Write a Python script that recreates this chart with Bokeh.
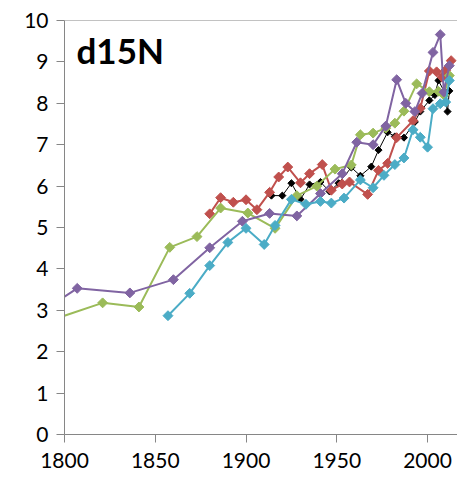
from bokeh.plotting import figure
from bokeh.models import FixedTicker, Span, Label, Range1d
from bokeh.embed import file_html
from bokeh.resources import INLINE
import numpy as np

# ---- data ----
purple_years = [1790, 1807, 1836, 1860, 1880, 1898, 1913, 1928, 1941, 1953, 1961, 1970, 1977, 1983, 1988, 1993, 1997, 2003, 2007, 2009, 2012]
purple_vals = [3.04, 3.53, 3.42, 3.74, 4.51, 5.15, 5.34, 5.28, 5.82, 6.30, 7.06, 7.00, 7.45, 8.57, 8.00, 7.80, 8.24, 9.23, 9.66, 8.27, 8.91]

green_years = [1790, 1821, 1841, 1858, 1873, 1886, 1901, 1916, 1928, 1939, 1949, 1958, 1963, 1970, 1977, 1982, 1987, 1994, 2001, 2006, 2009, 2012]
green_vals = [2.72, 3.18, 3.08, 4.52, 4.78, 5.47, 5.35, 4.98, 5.77, 6.00, 6.41, 6.51, 7.24, 7.28, 7.40, 7.52, 7.81, 8.47, 8.28, 8.29, 8.20, 8.67]

cyan_years = [1857, 1869, 1880, 1890, 1900, 1910, 1916, 1925, 1933, 1941, 1947, 1954, 1963, 1970, 1976, 1982, 1987, 1992, 1996, 2000, 2003, 2007, 2010, 2012]
cyan_vals = [2.87, 3.41, 4.08, 4.64, 4.98, 4.59, 5.05, 5.68, 5.56, 5.63, 5.59, 5.71, 6.15, 5.96, 6.26, 6.52, 6.68, 7.36, 7.18, 6.94, 7.87, 7.99, 8.03, 8.55]

red_years = [1880, 1886, 1893, 1900, 1906, 1913, 1918, 1923, 1930, 1935, 1942, 1947, 1953, 1957, 1967, 1973, 1978, 1983, 1992, 1996, 2001, 2005, 2008, 2010, 2013]
red_vals = [5.33, 5.72, 5.61, 5.67, 5.43, 5.85, 6.22, 6.46, 6.08, 6.30, 6.52, 5.90, 6.05, 6.10, 5.80, 6.38, 6.55, 7.17, 7.58, 7.88, 8.78, 8.76, 8.63, 8.80, 9.03]

black_years = [1914, 1920, 1925, 1930, 1935, 1941, 1946, 1951, 1958, 1963, 1969, 1973, 1978, 1982, 1987, 1993, 1996, 2001, 2004, 2006, 2009, 2011, 2012]
black_vals = [5.77, 5.77, 6.07, 5.68, 6.04, 6.10, 5.87, 6.07, 6.45, 6.25, 6.47, 6.87, 7.30, 7.20, 7.17, 7.55, 7.80, 8.07, 8.20, 8.55, 8.30, 7.80, 8.30]

x_ticks = [1800, 1850, 1900, 1950, 2000]
y_ticks = list(range(0, 11))
title_text = "d15N"

FONT = "Lato"
AXIS_GREY = "#868686"

p = figure(width=457, height=494, output_backend="svg", toolbar_location=None,
           x_range=Range1d(1800, 2016.5), y_range=Range1d(0, 10),
           min_border_left=64, min_border_right=0, min_border_top=20, min_border_bottom=60)
p.outline_line_color = None
p.xgrid.visible = False
p.ygrid.visible = False
p.background_fill_color = "white"
p.border_fill_color = "white"

for ax, ticks in ((p.xaxis[0], x_ticks), (p.yaxis[0], y_ticks)):
    ax.ticker = FixedTicker(ticks=ticks)
    ax.axis_line_color = AXIS_GREY
    ax.major_tick_line_color = AXIS_GREY
    ax.minor_tick_line_color = None
    ax.major_tick_in = 0
    ax.major_tick_out = 8
    ax.major_label_text_font = FONT
    ax.major_label_text_font_size = "21px"
    ax.major_label_text_color = "#000000"
p.yaxis.major_label_standoff = 8
p.xaxis.major_label_standoff = 10

# top line at y = 10
p.add_layout(Span(location=10, dimension="width", line_color=AXIS_GREY, line_width=1))

series = [
    (black_years, black_vals, "#000000", 1, 5),
    (red_years, red_vals, "#C0504D", 2, 7),
    (green_years, green_vals, "#9BBB59", 2, 7),
    (purple_years, purple_vals, "#8064A2", 2, 7),
    (cyan_years, cyan_vals, "#4BACC6", 2, 7),
]
for xs, ys, col, lw, ms in series:
    p.line(xs, ys, line_color=col, line_width=lw)
    p.scatter(xs, ys, marker="square", angle=np.pi / 4, size=ms,
              fill_color=col, line_color=col)

p.add_layout(Label(x=12, y=385, x_units="screen", y_units="screen", text=title_text,
                   text_font=FONT, text_font_style="bold", text_font_size="35px",
                   text_color="#000000", text_baseline="alphabetic"))

open("out.html", "w").write(file_html(p, INLINE))
